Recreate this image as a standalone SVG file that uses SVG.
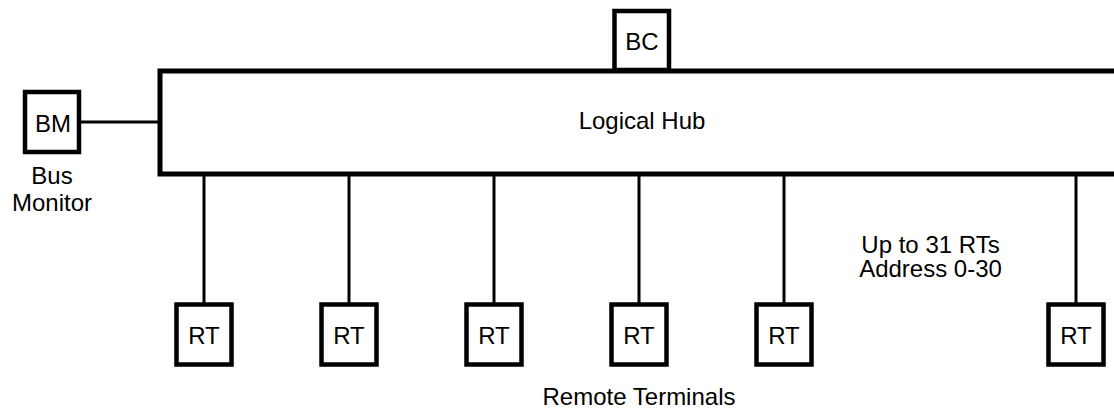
<svg xmlns="http://www.w3.org/2000/svg" width="1114" height="408" viewBox="0 0 1114 408">
<style>
.box{fill:#fff;stroke:#000;stroke-width:4.5}
.hub{fill:#fff;stroke:#000;stroke-width:5}
.wire{stroke:#000;stroke-width:3;fill:none}
text{font-family:"Liberation Sans",Arial,sans-serif;font-size:24px;fill:#000;text-anchor:middle}
</style>
<rect width="1114" height="408" fill="#fff"/>
<g id="connectors">
<line class="wire" x1="79" y1="122" x2="160" y2="122"/>
<line class="wire" x1="204" y1="174" x2="204" y2="305"/>
<line class="wire" x1="349" y1="174" x2="349" y2="305"/>
<line class="wire" x1="494" y1="174" x2="494" y2="305"/>
<line class="wire" x1="639" y1="174" x2="639" y2="305"/>
<line class="wire" x1="784" y1="174" x2="784" y2="305"/>
<line class="wire" x1="1076" y1="174" x2="1076" y2="305"/>
</g>
<g id="hub">
<rect class="hub" x="160" y="71" width="1000" height="103"/>
<text x="642" y="129">Logical Hub</text>
</g>
<g id="bc">
<rect class="box" x="614.5" y="11" width="54.5" height="59"/>
<text x="642" y="50">BC</text>
</g>
<g id="bm">
<rect class="box" x="25" y="92" width="54" height="60"/>
<text x="53" y="131.5">BM</text>
<text x="52" y="184">Bus</text>
<text x="52" y="210.5">Monitor</text>
</g>
<g id="rt1"><rect class="box" x="176.5" y="304.5" width="55" height="60"/><text x="204" y="344">RT</text></g>
<g id="rt2"><rect class="box" x="321.5" y="304.5" width="55" height="60"/><text x="349" y="344">RT</text></g>
<g id="rt3"><rect class="box" x="466.5" y="304.5" width="55" height="60"/><text x="494" y="344">RT</text></g>
<g id="rt4"><rect class="box" x="611.5" y="304.5" width="55" height="60"/><text x="639" y="344">RT</text></g>
<g id="rt5"><rect class="box" x="756.5" y="304.5" width="55" height="60"/><text x="784" y="344">RT</text></g>
<g id="rt6"><rect class="box" x="1048.5" y="304.5" width="55" height="60"/><text x="1076" y="344">RT</text></g>
<g id="labels">
<text x="930.5" y="253">Up to 31 RTs</text>
<text x="930.5" y="277">Address 0-30</text>
<text x="639" y="405">Remote Terminals</text>
</g>
</svg>
